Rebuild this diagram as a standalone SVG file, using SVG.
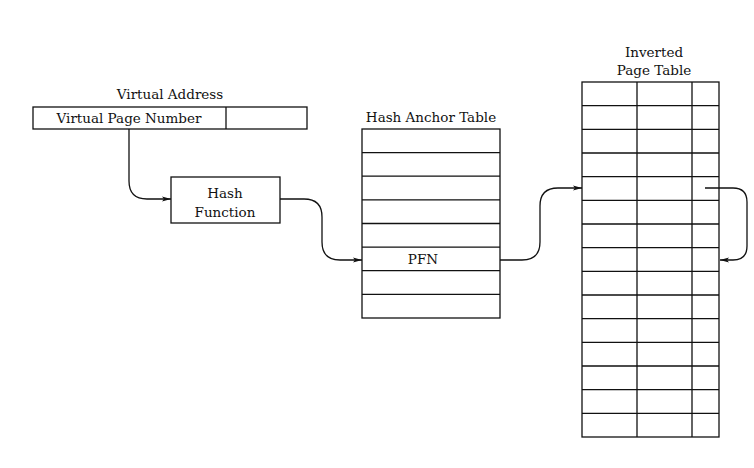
<svg xmlns="http://www.w3.org/2000/svg" width="754" height="468" viewBox="0 0 754 468">
<defs>
<marker id="ah" markerWidth="10" markerHeight="8" refX="9" refY="4" orient="auto" markerUnits="userSpaceOnUse">
<path d="M0,1.5 L9,4 L0,6.5 L2,4 Z" fill="#111"/>
</marker>
</defs>
<style>
.box{fill:#fff;stroke:#111;stroke-width:1.3}
.ln{stroke:#111;stroke-width:1.3;fill:none}
.t{font-family:"DejaVu Serif","Liberation Serif",serif;font-size:13.5px;fill:#111;text-anchor:middle}
.c{stroke:#111;stroke-width:1.3;fill:none;marker-end:url(#ah)}
</style>
<rect width="754" height="468" fill="#fff"/>
<g id="virtual-address">
<text class="t" x="170" y="99">Virtual Address</text>
<rect class="box" x="33" y="107" width="274" height="22"/>
<line class="ln" x1="226" y1="107" x2="226" y2="129"/>
<text class="t" x="129" y="123">Virtual Page Number</text>
</g>
<g id="hash-function">
<rect class="box" x="171" y="177" width="109" height="46"/>
<text class="t" x="225" y="198">Hash</text>
<text class="t" x="225" y="217">Function</text>
</g>
<g id="hash-anchor-table">
<text class="t" x="431" y="122">Hash Anchor Table</text>
<rect class="box" x="362" y="129" width="138" height="189"/>
<path class="ln" d="M362,152.6H500M362,176.2H500M362,199.9H500M362,223.5H500M362,247.1H500M362,270.7H500M362,294.4H500"/>
<text class="t" x="423" y="264">PFN</text>
</g>
<g id="inverted-page-table">
<text class="t" x="654" y="57">Inverted</text>
<text class="t" x="654" y="75">Page Table</text>
<rect class="box" x="582" y="82" width="137" height="355"/>
<path class="ln" d="M637,82V437M692,82V437"/>
<path class="ln" d="M582,105.7H719M582,129.3H719M582,153H719M582,176.7H719M582,200.3H719M582,224H719M582,247.7H719M582,271.3H719M582,295H719M582,318.7H719M582,342.3H719M582,366H719M582,389.7H719M582,413.3H719"/>
</g>
<g id="connectors">
<path class="c" d="M129,129V181Q129,199 147,199H171"/>
<path class="c" d="M280,199H304Q322,199 322,217V242Q322,260 340,260H362"/>
<path class="c" d="M500,260H522Q540,260 540,242V206Q540,188 558,188H582"/>
<path class="c" d="M705,188H733Q747,188 747,202V246Q747,260 733,260H720"/>
</g>
</svg>
